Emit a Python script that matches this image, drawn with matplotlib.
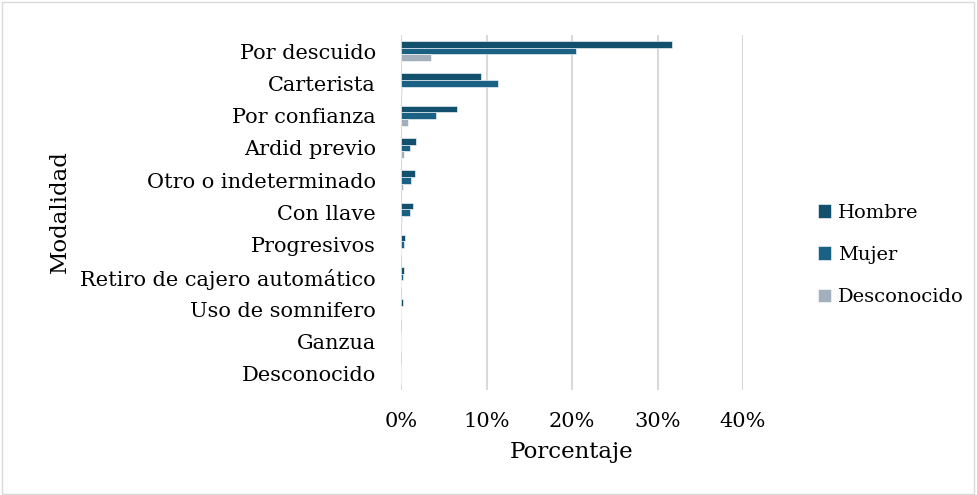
import matplotlib.pyplot as plt
import numpy as np

categorias = ["Por descuido", "Carterista", "Por confianza", "Ardid previo",
              "Otro o indeterminado", "Con llave", "Progresivos",
              "Retiro de cajero automático", "Uso de somnifero", "Ganzua",
              "Desconocido"]
hombre = [31.7, 9.3, 6.5, 1.7, 1.6, 1.4, 0.5, 0.35, 0.2, 0.05, 0.02]
mujer = [20.5, 11.4, 4.1, 1.0, 1.2, 1.0, 0.3, 0.2, 0.05, 0.03, 0.01]
desconocido = [3.5, 0.15, 0.8, 0.3, 0.2, 0.1, 0.05, 0.03, 0.02, 0.05, 0.01]
ticks = [0, 10, 20, 30, 40]

plt.rcParams['font.family'] = ['DejaVu Serif']

fig = plt.figure(figsize=(9.77, 4.95), dpi=100)
ax = fig.add_axes([401 / 977, 1 - 390 / 495, (743 - 401) / 977, (390 - 35) / 495])

y = np.arange(len(categorias))
h = 0.205
series = [(hombre, "Hombre", "#13506d"), (mujer, "Mujer", "#1a6184"),
          (desconocido, "Desconocido", "#a3b0bc")]
for i, (vals, name, col) in enumerate(series):
    ax.barh(y + (i - 1) * h, vals, height=h, color=col, label=name,
            edgecolor="white", linewidth=0.4, zorder=3)

ax.set_ylim(len(categorias) - 0.5, -0.5)
ax.set_xlim(0, 40)
ax.set_yticks(y)
ax.set_yticklabels(categorias, fontsize=15)
ax.set_xticks(ticks)
ax.set_xticklabels([f"{t}%" for t in ticks], fontsize=15)
ax.tick_params(axis='y', length=0, pad=18)
ax.tick_params(axis='x', length=0, pad=16)
ax.grid(axis='x', color="#d9d9d9", linewidth=1.5, zorder=0)
for s in ax.spines.values():
    s.set_visible(False)

ax.set_xlabel("Porcentaje", fontsize=16.5, labelpad=7)
fig.text(60 / 977, 1 - 212 / 495, "Modalidad", rotation=90, fontsize=16.5,
         ha='center', va='center')

ax.legend(loc='center left', bbox_to_anchor=(800 / 977, 1 - 255 / 495),
          bbox_transform=fig.transFigure, frameon=False, fontsize=14,
          handlelength=0.7, handleheight=0.7, labelspacing=1.25, handletextpad=0.35)

fig.patches.append(plt.Rectangle((0.002, 0.003), 0.995, 0.993, transform=fig.transFigure,
                                 fill=False, edgecolor="#d9d9d9", linewidth=1))

fig.savefig("out.png", dpi=100)
